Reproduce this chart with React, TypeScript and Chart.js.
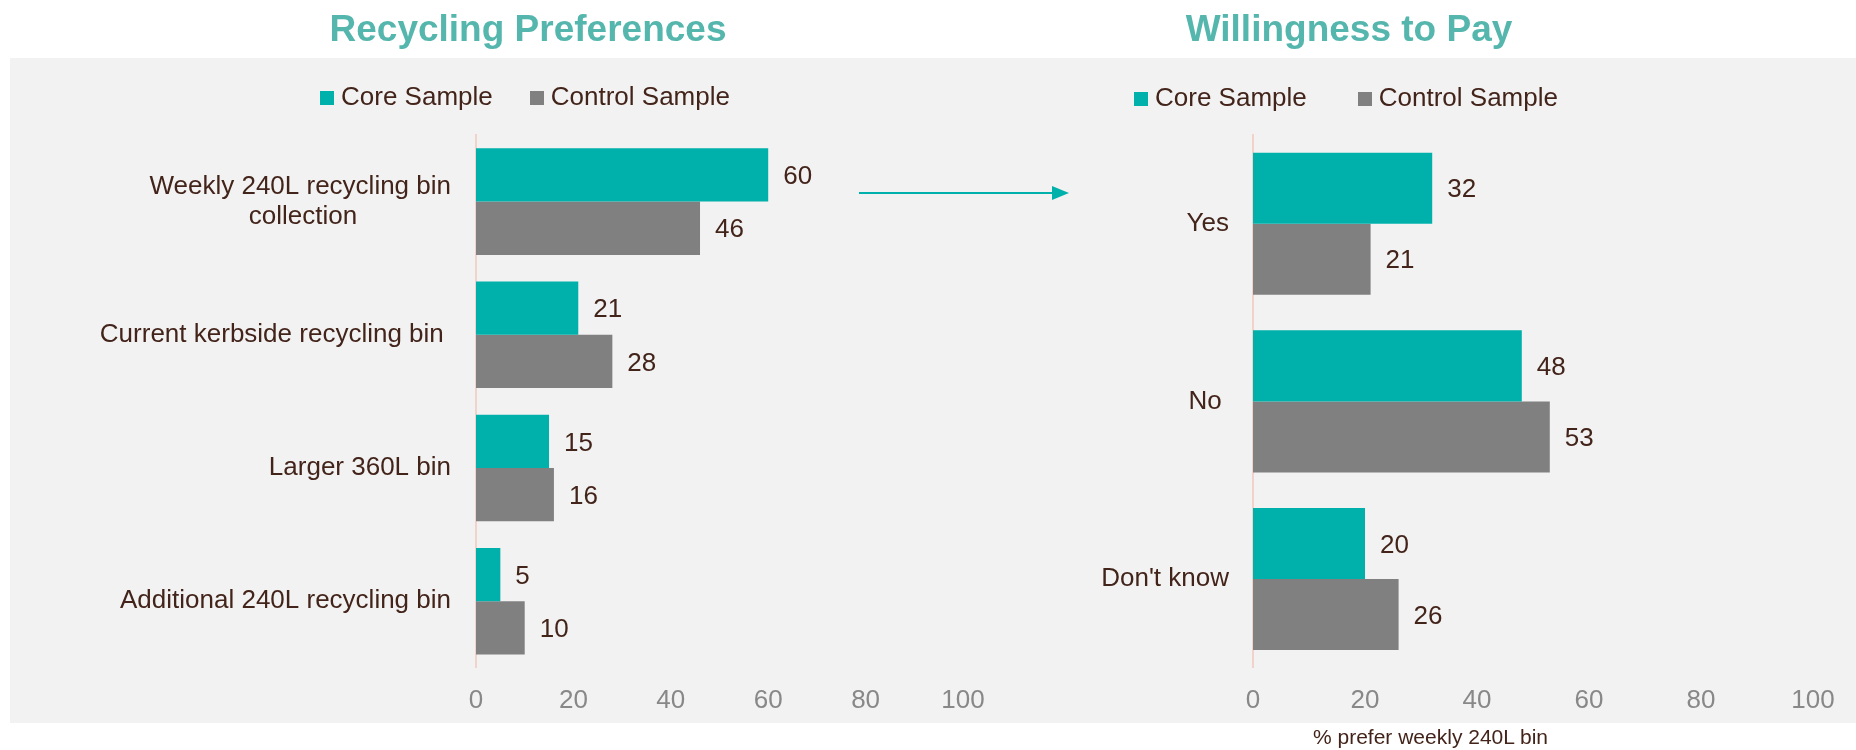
import React, { useEffect, useRef } from "react";
import { Chart, registerables } from "chart.js";

Chart.register(...registerables);

const FONT = '"Liberation Sans", Arial, Helvetica, sans-serif';
const TEXT_COLOR = "#43241A";
const TICK_COLOR = "#888888";
const TITLE_COLOR = "#55B6AE";
const CORE_COLOR = "#00B0AA";
const CONTROL_COLOR = "#808080";
const AXIS_COLOR = "#F2D3CB";
const PANEL_COLOR = "#F2F2F2";

// ---------- data ----------
const seriesNames = ["Core Sample", "Control Sample"];

const preferenceTitle = "Recycling Preferences";
const preferenceCategories: (string | string[])[] = [
  ["Weekly 240L recycling bin", "collection"],
  "Current kerbside recycling bin ",
  "Larger 360L bin",
  "Additional 240L recycling bin",
];
const preferenceCore = [60, 21, 15, 5];
const preferenceControl = [46, 28, 16, 10];

const payTitle = "Willingness to Pay";
const payCategories: (string | string[])[] = ["Yes", "No ", "Don't know"];
const payCore = [32, 48, 20];
const payControl = [21, 53, 26];

const axisMin = 0;
const axisMax = 100;
const axisStep = 20;
const payAxisNote = "% prefer weekly 240L bin";

// ---------- helpers ----------
const LABEL_SIZE = 26;
const SWATCH = 14;

function makeSwatch(color: string): HTMLCanvasElement {
  const c = document.createElement("canvas");
  c.width = SWATCH;
  c.height = SWATCH;
  const g = c.getContext("2d");
  if (g) {
    g.fillStyle = color;
    g.fillRect(0, 0, SWATCH, SWATCH);
  }
  return c;
}

function centerLines(label: any): any {
  if (!Array.isArray(label)) return label;
  const c = document.createElement("canvas").getContext("2d");
  if (!c) return label;
  c.font = `${LABEL_SIZE}px ${FONT}`;
  const widths = label.map((l: string) => c.measureText(l).width);
  const max = Math.max(...widths);
  const sp = c.measureText(" ").width || 7;
  return label.map(
    (l: string, i: number) => l + " ".repeat(Math.max(0, Math.round((max - widths[i]) / 2 / sp)))
  );
}

const valueLabelPlugin = {
  id: "valueLabels",
  afterDatasetsDraw(chart: any) {
    const ctx = chart.ctx;
    ctx.save();
    ctx.font = `${LABEL_SIZE}px ${FONT}`;
    ctx.fillStyle = TEXT_COLOR;
    ctx.textAlign = "left";
    ctx.textBaseline = "middle";
    chart.data.datasets.forEach((ds: any, i: number) => {
      const meta = chart.getDatasetMeta(i);
      if (meta.hidden) return;
      meta.data.forEach((el: any, j: number) => {
        ctx.fillText(String(ds.data[j]), el.x + 15, el.y + 2);
      });
    });
    ctx.restore();
  },
};

function legendSpacer(extra: number) {
  return {
    id: "legendSpacer",
    beforeInit(chart: any) {
      const legend = chart.legend;
      if (!legend) return;
      const fit = legend.fit;
      legend.fit = function () {
        fit.call(this);
        this.height += extra;
      };
    },
  };
}

type PanelProps = {
  x: number;
  width: number;
  height: number;
  title: string;
  categories: (string | string[])[];
  core: number[];
  control: number[];
  axisWidth: number;
  labelGap: number;
  legendGap: number;
  legendExtra: number;
  titleGapBottom: number;
};

function BarPanel(p: PanelProps) {
  const ref = useRef<HTMLCanvasElement>(null);
  useEffect(() => {
    const canvas = ref.current;
    if (!canvas) return;
    const chart = new Chart(canvas, {
      type: "bar",
      data: {
        labels: p.categories as any,
        datasets: [
          {
            label: seriesNames[0],
            data: p.core,
            backgroundColor: CORE_COLOR,
            borderWidth: 0,
            barPercentage: 1,
            categoryPercentage: 0.8,
            pointStyle: makeSwatch(CORE_COLOR),
          },
          {
            label: seriesNames[1],
            data: p.control,
            backgroundColor: CONTROL_COLOR,
            borderWidth: 0,
            barPercentage: 1,
            categoryPercentage: 0.8,
            pointStyle: makeSwatch(CONTROL_COLOR),
          },
        ],
      },
      options: {
        indexAxis: "y",
        responsive: false,
        maintainAspectRatio: false,
        animation: false,
        layout: { padding: { left: 0, right: 40, top: 0, bottom: 3 } },
        plugins: {
          title: {
            display: true,
            text: p.title,
            color: TITLE_COLOR,
            font: { family: FONT, size: 37, weight: "bold", lineHeight: 1 },
            padding: { top: 12, bottom: p.titleGapBottom },
          },
          legend: {
            display: true,
            position: "top",
            align: "center",
            labels: {
              usePointStyle: true,
              boxWidth: 2,
              boxHeight: SWATCH,
              padding: p.legendGap,
              color: TEXT_COLOR,
              font: { family: FONT, size: LABEL_SIZE },
            },
          },
          tooltip: { enabled: false },
        },
        scales: {
          x: {
            type: "linear",
            min: axisMin,
            max: axisMax,
            ticks: {
              stepSize: axisStep,
              padding: 17,
              color: TICK_COLOR,
              font: { family: FONT, size: LABEL_SIZE },
            },
            grid: { display: false, drawTicks: false },
            border: { display: false },
          },
          y: {
            type: "category",
            afterFit: (scale: any) => {
              scale.width = p.axisWidth;
            },
            ticks: {
              padding: p.labelGap,
              color: TEXT_COLOR,
              autoSkip: false,
              font: { family: FONT, size: LABEL_SIZE, lineHeight: 1.15 },
              callback: function (this: any, value: any) {
                return centerLines(this.getLabelForValue(value));
              },
            },
            grid: { display: false, drawTicks: false },
            border: { display: true, color: AXIS_COLOR, width: 2 },
          },
        },
      } as any,
      plugins: [valueLabelPlugin, legendSpacer(p.legendExtra)],
    });
    return () => chart.destroy();
  }, []);
  return (
    <canvas
      ref={ref}
      width={p.width}
      height={p.height}
      style={{ position: "absolute", left: p.x, top: 0, width: p.width, height: p.height }}
    />
  );
}

export default function App() {
  return (
    <div
      style={{
        position: "absolute",
        left: 0,
        top: 0,
        width: 1856,
        height: 750,
        overflow: "hidden",
        background: "#FFFFFF",
        fontFamily: FONT,
      }}
    >
      <div
        style={{
          position: "absolute",
          left: 10,
          top: 58,
          width: 1846,
          height: 665,
          background: PANEL_COLOR,
        }}
      />
      <BarPanel
        x={93}
        width={910}
        height={736}
        title={preferenceTitle}
        categories={preferenceCategories}
        core={preferenceCore}
        control={preferenceControl}
        axisWidth={383}
        labelGap={25}
        legendGap={43}
        legendExtra={14.5}
        titleGapBottom={-7.5}
      />
      <BarPanel
        x={885}
        width={968}
        height={736}
        title={payTitle}
        categories={payCategories}
        core={payCore}
        control={payControl}
        axisWidth={368}
        labelGap={24}
        legendGap={57}
        legendExtra={13.5}
        titleGapBottom={-20.5}
      />
      <svg
        width={1856}
        height={750}
        style={{ position: "absolute", left: 0, top: 0, pointerEvents: "none" }}
      >
        <line x1={859} y1={193} x2={1056} y2={193} stroke={CORE_COLOR} strokeWidth={2} />
        <polygon points="1052,186 1069,193 1052,200" fill={CORE_COLOR} />
      </svg>
      <div
        style={{
          position: "absolute",
          left: 1313,
          top: 725,
          fontSize: 21,
          lineHeight: "24px",
          color: TEXT_COLOR,
          whiteSpace: "nowrap",
        }}
      >
        {payAxisNote}
      </div>
    </div>
  );
}
